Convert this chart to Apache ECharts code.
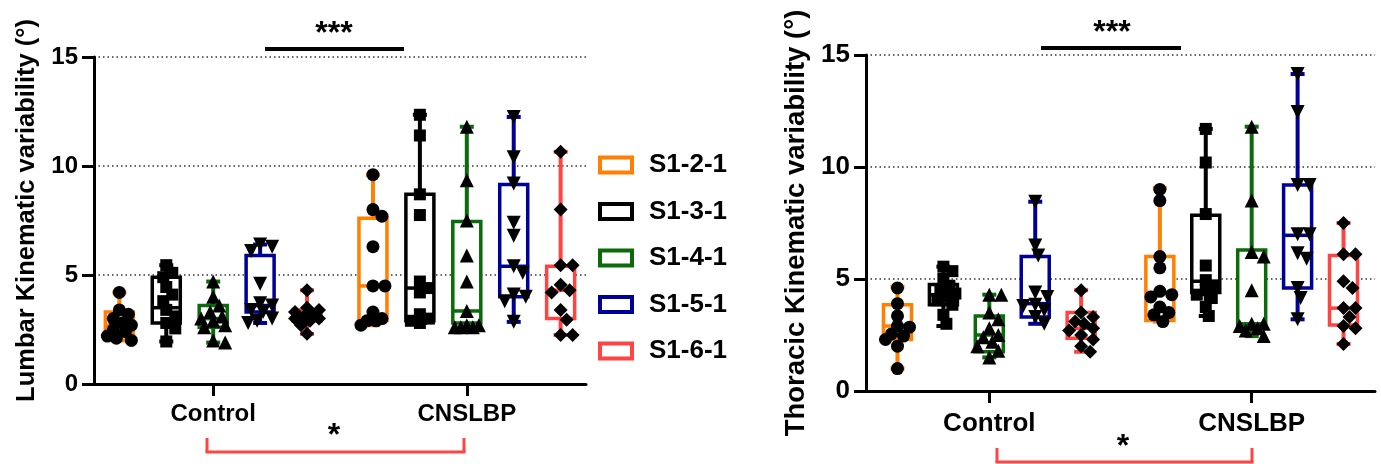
<!DOCTYPE html>
<html>
<head>
<meta charset="utf-8">
<script src="https://cdn.jsdelivr.net/npm/echarts@6/dist/echarts.min.js"></script>
<style>
html,body{margin:0;padding:0;background:#fff;}
#chart{width:1381px;height:464px;}
</style>
</head>
<body>
<div id="chart"></div>
<script>
// ---------- data ----------
const categories = ['Control', 'CNSLBP'];
const seriesNames = ['S1-2-1', 'S1-3-1', 'S1-4-1', 'S1-5-1', 'S1-6-1'];
const seriesColors = ['#FF7F00', '#000000', '#0B6B0B', '#000099', '#FF4444'];
const seriesSymbols = ['circle', 'rect', 'triangle', 'triangle', 'diamond'];
const yTicks = [0, 5, 10, 15];

// box stats: [min, q1, median, q3, max] per series
const lumbarControlBox = [
  [2.0, 2.3, 2.7, 3.3, 4.2],
  [1.95, 2.8, 3.5, 4.9, 5.45],
  [1.9, 2.6, 3.0, 3.6, 4.7],
  [2.8, 3.3, 3.6, 5.9, 6.4],
  [2.3, 2.9, 3.1, 3.4, 4.3]
];
const lumbarCNSLBPBox = [
  [2.7, 2.9, 4.5, 7.6, 9.6],
  [2.8, 2.9, 4.4, 8.7, 12.35],
  [2.6, 2.8, 3.35, 7.45, 11.8],
  [2.85, 4.0, 5.4, 9.15, 12.25],
  [2.25, 3.0, 4.3, 5.4, 10.65]
];
const thoracicControlBox = [
  [1.0, 2.3, 2.9, 3.85, 4.65],
  [2.9, 3.85, 4.3, 4.75, 5.55],
  [1.5, 1.75, 2.5, 3.35, 4.3],
  [3.0, 3.3, 3.9, 6.0, 8.45],
  [1.75, 2.35, 2.8, 3.5, 4.5]
];
const thoracicCNSLBPBox = [
  [3.1, 3.15, 4.4, 6.0, 9.05],
  [3.35, 4.4, 4.9, 7.85, 11.7],
  [2.45, 2.9, 3.0, 6.3, 11.8],
  [3.2, 4.6, 6.95, 9.2, 14.15],
  [2.1, 2.95, 3.7, 6.05, 7.5]
];

// individual points
const lumbarControlPts = [
  [4.2, 3.4, 3.2, 3.0, 2.8, 2.7, 2.5, 2.4, 2.2, 2.1, 2.0],
  [5.45, 5.1, 4.9, 4.45, 4.1, 3.8, 3.4, 3.1, 2.8, 2.55, 1.95],
  [4.7, 4.0, 3.6, 3.3, 3.1, 3.0, 2.9, 2.7, 2.6, 2.0, 1.9],
  [6.4, 6.3, 6.1, 4.6, 3.7, 3.6, 3.4, 3.3, 3.0, 2.9, 2.8],
  [4.3, 3.5, 3.4, 3.3, 3.2, 3.1, 3.0, 3.0, 2.9, 2.7, 2.3]
];
const lumbarCNSLBPPts = [
  [9.6, 8.0, 7.7, 6.3, 4.5, 4.5, 3.3, 3.0, 2.9, 2.9, 2.7],
  [12.35, 11.4, 8.7, 7.75, 4.7, 4.4, 4.2, 3.2, 3.0, 2.9, 2.8],
  [11.8, 9.35, 7.5, 5.9, 4.7, 3.35, 2.7, 2.7, 2.6, 2.6, 2.6],
  [12.25, 10.4, 9.2, 7.4, 6.8, 5.4, 5.1, 4.1, 4.0, 3.8, 2.85],
  [10.65, 8.0, 5.45, 5.45, 4.55, 4.3, 4.2, 3.4, 2.95, 2.25, 2.25]
];
const thoracicControlPts = [
  [4.6, 3.9, 3.35, 2.9, 2.85, 2.55, 2.45, 2.3, 2.0, 1.0],
  [5.55, 5.35, 5.0, 4.7, 4.5, 4.35, 4.2, 4.05, 3.85, 3.4, 3.0],
  [4.3, 4.3, 3.5, 3.2, 2.8, 2.5, 2.4, 2.2, 2.0, 1.8, 1.5],
  [8.45, 6.5, 6.05, 4.4, 4.2, 3.85, 3.8, 3.6, 3.3, 3.0],
  [4.5, 3.5, 3.3, 3.1, 3.0, 2.8, 2.7, 2.5, 2.3, 2.0, 1.75]
];
const thoracicCNSLBPPts = [
  [9.0, 8.5, 6.0, 5.5, 4.45, 4.3, 4.2, 3.75, 3.5, 3.4, 3.1],
  [11.7, 10.2, 7.9, 5.6, 4.95, 4.7, 4.5, 4.3, 4.15, 3.75, 3.35],
  [11.8, 8.5, 6.2, 6.0, 4.5, 3.0, 3.0, 2.9, 2.8, 2.7, 2.45],
  [14.15, 12.45, 9.2, 9.2, 7.0, 7.0, 6.15, 5.9, 4.6, 4.15, 3.2],
  [7.5, 6.1, 6.1, 4.9, 4.6, 3.7, 3.7, 3.3, 2.9, 2.8, 2.1]
];

// ---------- layout ----------
const FONT = "'Liberation Sans', Arial, sans-serif";
const panels = [
  { grid: { left: 94, right: 795, top: 57, bottom: 80 }, spacing: 0.185,
    name: 'Lumbar Kinematic variability (°)', nameSize: 25.5, nameGap: 54, namePad: [0, 0, 0, 20], labelSize: 24, catMargin: 18,
    boxes: [lumbarControlBox, lumbarCNSLBPBox], pts: [lumbarControlPts, lumbarCNSLBPPts] },
  { grid: { left: 866, right: 6, top: 55, bottom: 73 }, spacing: 0.175,
    name: 'Thoracic Kinematic variability (°)', nameSize: 27.5, nameGap: 56, namePad: [0, 0, 0, 0], labelSize: 26, catMargin: 20,
    boxes: [thoracicControlBox, thoracicCNSLBPBox], pts: [thoracicControlPts, thoracicCNSLBPPts] }
];
const H = 464;
const yMax = 15;
const symbolSizes = [13, 12, 14, 14, 14];

function swarm(vals, pxPerUnit, d, step, maxOff) {
  const idx = vals.map((v, i) => i).sort((a, b) => vals[b] - vals[a]);
  const placed = [];
  const off = new Array(vals.length).fill(0);
  for (const i of idx) {
    const y = vals[i] * pxPerUnit;
    let best = 0, bestScore = -1;
    for (let t = 0; t < 40; t++) {
      const cand = t === 0 ? 0 : (t % 2 ? 1 : -1) * Math.ceil(t / 2) * step;
      if (Math.abs(cand) > maxOff) break;
      const minD = placed.reduce((m, p) => Math.min(m, Math.hypot(p.x - cand, p.y - y)), Infinity);
      if (minD >= d) { best = cand; bestScore = Infinity; break; }
      if (minD > bestScore) { bestScore = minD; best = cand; }
    }
    off[i] = best;
    placed.push({ x: best, y });
  }
  return off;
}

const grids = [], xAxes = [], yAxes = [], series = [];
panels.forEach((p, pi) => {
  grids.push(p.grid);
  xAxes.push({
    type: 'value', gridIndex: pi, min: -0.47, max: 1.47,
    axisLine: { show: true, onZero: false, lineStyle: { color: '#000', width: 3 } },
    axisTick: { show: true, customValues: [0, 1], length: 12, lineStyle: { color: '#000', width: 3 } },
    axisLabel: { show: true, customValues: [0, 1], margin: p.catMargin, color: '#000',
      fontFamily: FONT, fontWeight: 'bold', fontSize: p.labelSize,
      formatter: v => categories[Math.round(v)] },
    splitLine: { show: false }
  });
  yAxes.push({
    type: 'value', gridIndex: pi, min: yTicks[0], max: yTicks[yTicks.length - 1], interval: 5,
    name: p.name, nameLocation: 'middle', nameGap: p.nameGap,
    nameTextStyle: { fontFamily: FONT, fontWeight: 'bold', fontSize: p.nameSize, color: '#000', padding: p.namePad },
    axisLine: { show: true, onZero: false, lineStyle: { color: '#000', width: 3 } },
    axisTick: { show: true, length: 12, lineStyle: { color: '#000', width: 3 } },
    axisLabel: { margin: 16, color: '#000', fontFamily: FONT, fontWeight: 'bold', fontSize: p.labelSize },
    splitLine: { show: true, lineStyle: { color: '#333', width: 1.5, type: [1.5, 3] } }
  });
  const plotH = H - p.grid.top - p.grid.bottom;
  const pxPerUnit = plotH / yMax;
  seriesNames.forEach((sn, si) => {
    const boxData = categories.map((c, ci) => [ci + (si - 2) * p.spacing].concat(p.boxes[ci][si]));
    series.push({
      type: 'custom', name: sn, xAxisIndex: pi, yAxisIndex: pi, z: 2,
      itemStyle: { color: '#fff', borderColor: seriesColors[si] },
      data: boxData,
      renderItem: function (params, api) {
        const x = api.value(0);
        const pMin = api.coord([x, api.value(1)]);
        const pQ1 = api.coord([x, api.value(2)]);
        const pMed = api.coord([x, api.value(3)]);
        const pQ3 = api.coord([x, api.value(4)]);
        const pMax = api.coord([x, api.value(5)]);
        const cx = pMin[0], hw = 14, cap = 7;
        const col = seriesColors[si];
        const ls = { stroke: col, lineWidth: 4 };
        return {
          type: 'group', children: [
            { type: 'line', shape: { x1: cx, y1: pMax[1], x2: cx, y2: pQ3[1] }, style: ls },
            { type: 'line', shape: { x1: cx, y1: pQ1[1], x2: cx, y2: pMin[1] }, style: ls },
            { type: 'line', shape: { x1: cx - cap, y1: pMax[1], x2: cx + cap, y2: pMax[1] }, style: ls },
            { type: 'line', shape: { x1: cx - cap, y1: pMin[1], x2: cx + cap, y2: pMin[1] }, style: ls },
            { type: 'rect', shape: { x: cx - hw, y: pQ3[1], width: 2 * hw, height: pQ1[1] - pQ3[1] },
              style: { fill: '#fff', stroke: col, lineWidth: 3.5 } },
            { type: 'line', shape: { x1: cx - hw, y1: pMed[1], x2: cx + hw, y2: pMed[1] }, style: { stroke: col, lineWidth: 3.5 } }
          ]
        };
      }
    });
    const ptsData = [];
    categories.forEach((c, ci) => {
      const vals = p.pts[ci][si];
      const offs = swarm(vals, pxPerUnit, symbolSizes[si] * 0.75, 3, 13);
      vals.forEach((v, k) => ptsData.push({ value: [ci + (si - 2) * p.spacing, v], symbolOffset: [offs[k], 0] }));
    });
    series.push({
      type: 'scatter', name: sn, xAxisIndex: pi, yAxisIndex: pi, z: 5,
      symbol: seriesSymbols[si], symbolSize: symbolSizes[si], symbolRotate: si === 3 ? 180 : 0,
      itemStyle: { color: '#000', opacity: 1 },
      emphasis: { disabled: true },
      data: ptsData
    });
  });
});

const annLine = (x1, y1, x2, y2, color, w) => ({ type: 'line', shape: { x1, y1, x2, y2 }, style: { stroke: color, lineWidth: w } });
const annText = (x, y, text, size) => ({ type: 'text', x, y, style: { text, fill: '#000', font: 'bold ' + size + 'px ' + FONT, textAlign: 'center', textVerticalAlign: 'middle' } });

const option = {
  animation: false,
  backgroundColor: '#fff',
  grid: grids,
  xAxis: xAxes,
  yAxis: yAxes,
  legend: {
    orient: 'vertical', left: 593, top: 147, itemWidth: 32, itemHeight: 15, itemGap: 20.5,
    textStyle: { fontFamily: FONT, fontWeight: 'bold', fontSize: 26, color: '#000', padding: [0, 0, 0, 12] },
    selectedMode: false,
    data: seriesNames.map((n, i) => ({ name: n, icon: 'rect', itemStyle: { color: '#fff', borderColor: seriesColors[i], borderWidth: 4 } }))
  },
  graphic: [
    annText(334, 34, '***', 32),
    annLine(265, 49, 404, 49, '#000', 4),
    annText(1112, 33, '***', 32),
    annLine(1041, 48, 1181, 48, '#000', 4),
    annText(334, 436, '*', 32),
    annLine(207, 438, 207, 452, '#FF4444', 3),
    annLine(464, 438, 464, 452, '#FF4444', 3),
    annLine(205.5, 452, 465.5, 452, '#FF4444', 3),
    annText(1123, 447, '*', 32),
    annLine(997, 448, 997, 462, '#FF4444', 3),
    annLine(1252, 448, 1252, 462, '#FF4444', 3),
    annLine(995.5, 462, 1253.5, 462, '#FF4444', 3)
  ],
  series: series
};

const chart = echarts.init(document.getElementById('chart'), null, { renderer: 'canvas' });
chart.setOption(option);
</script>
</body>
</html>
